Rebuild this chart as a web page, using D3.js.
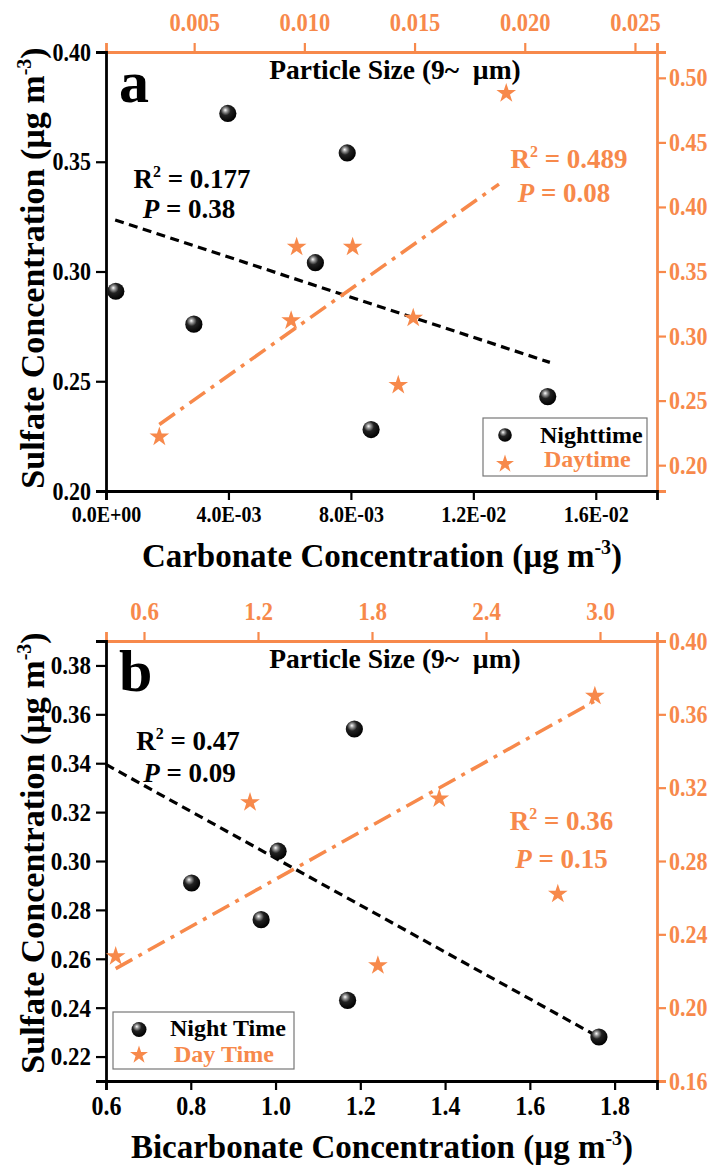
<!DOCTYPE html>
<html>
<head>
<meta charset="utf-8">
<script src="https://cdn.jsdelivr.net/npm/d3@7"></script>
<style>
  html, body { margin: 0; padding: 0; background: #fff; }
  svg { display: block; }
</style>
</head>
<body>
<svg id="chart" width="714" height="1166"></svg>
<script>
// ---------- DATA ----------
// Panel a
const aNightCarbonate = [0.00032, 0.00287, 0.00398, 0.00684, 0.00788, 0.00866, 0.01443];
const aNightSulfate   = [0.291, 0.276, 0.372, 0.304, 0.354, 0.228, 0.243];
const aDaySize        = [0.00342, 0.0094, 0.00965, 0.01219, 0.01426, 0.01494, 0.01916];
const aDaySulfate     = [0.222, 0.312, 0.369, 0.369, 0.262, 0.314, 0.488];
const aNightFitX = [0.0003, 0.0145];
const aNightFitY = [0.3235, 0.2586];
const aDayFitX   = [0.00342, 0.01883];
const aDayFitY   = [0.2315, 0.4177];
const aBottomTicks = [0, 0.004, 0.008, 0.012, 0.016];
const aBottomTickLabels = ["0.0E+00", "4.0E-03", "8.0E-03", "1.2E-02", "1.6E-02"];
const aTopTicks = [0.005, 0.010, 0.015, 0.020, 0.025];
const aTopTickLabels = ["0.005", "0.010", "0.015", "0.020", "0.025"];
const aLeftTicks = [0.20, 0.25, 0.30, 0.35, 0.40];
const aLeftTickLabels = ["0.20", "0.25", "0.30", "0.35", "0.40"];
const aRightTicks = [0.20, 0.25, 0.30, 0.35, 0.40, 0.45, 0.50];
const aRightTickLabels = ["0.20", "0.25", "0.30", "0.35", "0.40", "0.45", "0.50"];

// Panel b
const bNightBicarbonate = [0.802, 0.966, 1.006, 1.186, 1.170, 1.763];
const bNightSulfate     = [0.291, 0.276, 0.304, 0.354, 0.243, 0.228];
const bDaySize          = [0.451, 1.158, 2.154, 1.831, 2.778, 2.973];
const bDaySulfate       = [0.228, 0.312, 0.314, 0.223, 0.262, 0.370];
const bNightFitX = [0.6, 1.758];
const bNightFitY = [0.3395, 0.2284];
const bDayFitX   = [0.451, 2.973];
const bDayFitY   = [0.2213, 0.3673];
const bBottomTicks = [0.6, 0.8, 1.0, 1.2, 1.4, 1.6, 1.8];
const bBottomTickLabels = ["0.6", "0.8", "1.0", "1.2", "1.4", "1.6", "1.8"];
const bTopTicks = [0.6, 1.2, 1.8, 2.4, 3.0];
const bTopTickLabels = ["0.6", "1.2", "1.8", "2.4", "3.0"];
const bLeftTicks = [0.22, 0.24, 0.26, 0.28, 0.30, 0.32, 0.34, 0.36, 0.38];
const bLeftTickLabels = ["0.22", "0.24", "0.26", "0.28", "0.30", "0.32", "0.34", "0.36", "0.38"];
const bRightTicks = [0.16, 0.20, 0.24, 0.28, 0.32, 0.36, 0.40];
const bRightTickLabels = ["0.16", "0.20", "0.24", "0.28", "0.32", "0.36", "0.40"];

// ---------- DRAWING ----------
const ORANGE = "#F7894B";
const FONT = '"Liberation Serif", "Times New Roman", Times, serif';
const K = 0.88; // horizontal condensing of the narrow, tall tick lettering
const svg = d3.select("#chart");

const defs = svg.append("defs");
const grad = defs.append("radialGradient").attr("id", "sphere")
  .attr("cx", "40%").attr("cy", "35%").attr("r", "65%").attr("fx", "35%").attr("fy", "30%");
grad.append("stop").attr("offset", "0%").attr("stop-color", "#ffffff");
grad.append("stop").attr("offset", "18%").attr("stop-color", "#9a9a9a");
grad.append("stop").attr("offset", "45%").attr("stop-color", "#222222");
grad.append("stop").attr("offset", "100%").attr("stop-color", "#000000");

const starPath = d3.symbol().type(d3.symbolStar).size(120)();
const starPathSmall = d3.symbol().type(d3.symbolStar).size(100)();

function txt(parent, size) {
  return parent.append("text").style("font-family", FONT).style("font-weight", "bold")
    .style("font-size", size + "px");
}
function condense(sel, k) {
  sel.each(function () {
    const L = this.getComputedTextLength();
    d3.select(this).attr("textLength", L * k).attr("lengthAdjust", "spacingAndGlyphs");
  });
  return sel;
}

function drawPanel(cfg) {
  const {left, right, top, bottom} = cfg.box;
  const x = d3.scaleLinear().domain(cfg.xDomain).range([left, right]);
  const x2 = d3.scaleLinear().domain(cfg.x2Domain).range([left, right]);
  const y = d3.scaleLinear().domain(cfg.yDomain).range([bottom, top]);
  const y2 = d3.scaleLinear().domain(cfg.y2Domain).range([bottom, top]);
  const g = svg.append("g");
  const fs = cfg.tickFont;

  function styleAxis(sel, color, size) {
    sel.attr("font-family", null).attr("font-size", null);
    sel.select(".domain").attr("stroke", color).attr("stroke-width", 2.8);
    sel.selectAll(".tick line").attr("stroke", color).attr("stroke-width", 2.2);
    const t = sel.selectAll(".tick text").attr("fill", color)
      .style("font-size", (size / K) + "px").style("font-weight", "bold")
      .style("font-family", FONT);
    condense(t, K);
  }

  // top axis (orange)
  const topAx = g.append("g").attr("transform", `translate(0,${top})`)
    .call(d3.axisTop(x2).tickValues(cfg.topTicks).tickFormat((d, i) => cfg.topLabels[i])
      .tickSizeOuter(0).tickSize(9).tickPadding(12));
  styleAxis(topAx, ORANGE, fs.top);

  // right axis (orange)
  const rightAx = g.append("g").attr("transform", `translate(${right},0)`)
    .call(d3.axisRight(y2).tickValues(cfg.rightTicks).tickFormat((d, i) => cfg.rightLabels[i])
      .tickSizeOuter(0).tickSize(9).tickPadding(3));
  styleAxis(rightAx, ORANGE, fs.right);

  // bottom axis (black)
  const botAx = g.append("g").attr("transform", `translate(0,${bottom})`)
    .call(d3.axisBottom(x).tickValues(cfg.bottomTicks).tickFormat((d, i) => cfg.bottomLabels[i])
      .tickSizeOuter(0).tickSize(9).tickPadding(6));
  styleAxis(botAx, "#000", fs.bottom);

  // left axis (black)
  const leftAx = g.append("g").attr("transform", `translate(${left},0)`)
    .call(d3.axisLeft(y).tickValues(cfg.leftTicks).tickFormat((d, i) => cfg.leftLabels[i])
      .tickSizeOuter(0).tickSize(10).tickPadding(5));
  styleAxis(leftAx, "#000", fs.left);

  // axis titles
  const bt = txt(g, 33).attr("x", cfg.xTitleX).attr("y", cfg.xTitleY)
    .attr("text-anchor", "middle").attr("fill", "#000");
  bt.append("tspan").text(cfg.xTitle + " (\u00b5g m");
  bt.append("tspan").text("-3").attr("dy", -13).style("font-size", "20px");
  bt.append("tspan").text(")").attr("dy", 13);

  const lt = txt(g, 34)
    .attr("transform", `translate(44,${cfg.yTitleC}) rotate(-90)`)
    .attr("text-anchor", "middle").attr("fill", "#000");
  lt.append("tspan").text("Sulfate Concentration (\u00b5g m");
  lt.append("tspan").text("-3").attr("dy", -13).style("font-size", "20px");
  lt.append("tspan").text(")").attr("dy", 13);

  // inner title
  txt(g, 27.5).attr("x", 395).attr("y", top + 26.5).attr("text-anchor", "middle")
    .style("white-space", "pre").attr("fill", "#000")
    .text("Particle Size (9~  \u00b5m)");

  // panel letter
  txt(g, 60).attr("x", 119).attr("y", top + 50).attr("fill", "#000").text(cfg.letter);

  // fit lines
  g.append("line")
    .attr("x1", x(cfg.nightFitX[0])).attr("y1", y(cfg.nightFitY[0]))
    .attr("x2", x(cfg.nightFitX[1])).attr("y2", y(cfg.nightFitY[1]))
    .attr("stroke", "#000").attr("stroke-width", 3.2).attr("stroke-dasharray", "9,5.5");
  g.append("line")
    .attr("x1", x2(cfg.dayFitX[0])).attr("y1", y2(cfg.dayFitY[0]))
    .attr("x2", x2(cfg.dayFitX[1])).attr("y2", y2(cfg.dayFitY[1]))
    .attr("stroke", ORANGE).attr("stroke-width", 3.5).attr("stroke-dasharray", "19,7,4,7");

  // night spheres
  g.selectAll("circle.night").data(cfg.nightX.map((v, i) => [v, cfg.nightY[i]]))
    .join("circle").attr("class", "night")
    .attr("cx", d => x(d[0])).attr("cy", d => y(d[1])).attr("r", 8.6)
    .attr("fill", "url(#sphere)");

  // day stars
  g.selectAll("path.day").data(cfg.dayX.map((v, i) => [v, cfg.dayY[i]]))
    .join("path").attr("class", "day")
    .attr("d", starPath)
    .attr("transform", d => `translate(${x2(d[0])},${y2(d[1])})`)
    .attr("fill", ORANGE);

  // annotations
  function annot(a, r2, p, color) {
    const t1 = txt(g, 27).attr("x", a.x).attr("y", a.y).attr("text-anchor", "middle").attr("fill", color);
    t1.append("tspan").text("R");
    t1.append("tspan").text("2").attr("dy", -11).style("font-size", "16px");
    t1.append("tspan").text(" = " + r2).attr("dy", 11);
    const t2 = txt(g, 27).attr("x", a.px).attr("y", a.py).attr("text-anchor", "middle").attr("fill", color);
    t2.append("tspan").text("P").style("font-style", "italic");
    t2.append("tspan").text(" = " + p);
  }
  annot(cfg.nightAnnot, cfg.nightR2, cfg.nightP, "#000");
  annot(cfg.dayAnnot, cfg.dayR2, cfg.dayP, ORANGE);

  // legend
  const L = cfg.legend;
  g.append("rect").attr("x", L.x).attr("y", L.y).attr("width", L.w).attr("height", L.h)
    .attr("fill", "#fff").attr("stroke", "#777").attr("stroke-width", 1.2);
  g.append("circle").attr("cx", L.x + L.sx).attr("cy", L.y + L.cy).attr("r", L.cr)
    .attr("fill", "url(#sphere)");
  g.append("path").attr("d", starPathSmall)
    .attr("transform", `translate(${L.x + L.sx},${L.y + L.sy})`).attr("fill", ORANGE);
  txt(g, 24).attr("x", L.x + L.tx).attr("y", L.y + L.ny).attr("fill", "#000").text(L.night);
  txt(g, 24).attr("x", L.x + L.tx + 4).attr("y", L.y + L.dy).attr("fill", ORANGE).text(L.day);
}

drawPanel({
  box: {left: 106, right: 657, top: 52, bottom: 491},
  xDomain: [0, 0.018], x2Domain: [0.001, 0.026],
  yDomain: [0.20, 0.40], y2Domain: [0.18, 0.52],
  tickFont: {top: 22.5, right: 22, bottom: 20, left: 22},
  bottomTicks: aBottomTicks, bottomLabels: aBottomTickLabels,
  topTicks: aTopTicks, topLabels: aTopTickLabels,
  leftTicks: aLeftTicks, leftLabels: aLeftTickLabels,
  rightTicks: aRightTicks, rightLabels: aRightTickLabels,
  xTitle: "Carbonate Concentration", xTitleX: 382, xTitleY: 567, yTitleC: 268,
  letter: "a",
  nightX: aNightCarbonate, nightY: aNightSulfate,
  dayX: aDaySize, dayY: aDaySulfate,
  nightFitX: aNightFitX, nightFitY: aNightFitY,
  dayFitX: aDayFitX, dayFitY: aDayFitY,
  nightR2: "0.177", nightP: "0.38", nightAnnot: {x: 192, y: 188, px: 189, py: 218},
  dayR2: "0.489", dayP: "0.08", dayAnnot: {x: 569, y: 168, px: 564, py: 201.5},
  legend: {x: 483, y: 418, w: 164, h: 58, sx: 22, cy: 17, cr: 6.8, sy: 46, tx: 57, ny: 25, dy: 49,
           night: "Nighttime", day: "Daytime"}
});

drawPanel({
  box: {left: 106, right: 657, top: 641, bottom: 1081},
  xDomain: [0.6, 1.9], x2Domain: [0.4, 3.3],
  yDomain: [0.21, 0.39], y2Domain: [0.16, 0.40],
  tickFont: {top: 23, right: 22, bottom: 24, left: 23},
  bottomTicks: bBottomTicks, bottomLabels: bBottomTickLabels,
  topTicks: bTopTicks, topLabels: bTopTickLabels,
  leftTicks: bLeftTicks, leftLabels: bLeftTickLabels,
  rightTicks: bRightTicks, rightLabels: bRightTickLabels,
  xTitle: "Bicarbonate Concentration", xTitleX: 382, xTitleY: 1158, yTitleC: 853,
  letter: "b",
  nightX: bNightBicarbonate, nightY: bNightSulfate,
  dayX: bDaySize, dayY: bDaySulfate,
  nightFitX: bNightFitX, nightFitY: bNightFitY,
  dayFitX: bDayFitX, dayFitY: bDayFitY,
  nightR2: "0.47", nightP: "0.09", nightAnnot: {x: 188, y: 750, px: 189.5, py: 781.5},
  dayR2: "0.36", dayP: "0.15", dayAnnot: {x: 561.5, y: 830, px: 561.5, py: 868},
  legend: {x: 113, y: 1012, w: 181, h: 57, sx: 26, cy: 17.5, cr: 7.5, sy: 43, tx: 57, ny: 24, dy: 50,
           night: "Night Time", day: "Day Time"}
});
</script>
</body>
</html>
